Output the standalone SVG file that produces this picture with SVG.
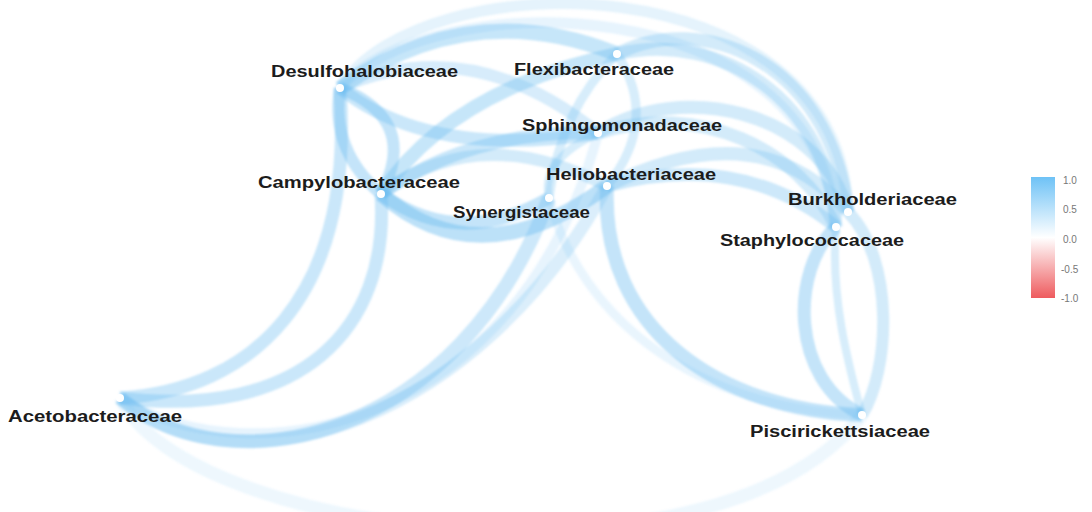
<svg xmlns="http://www.w3.org/2000/svg" width="1092" height="512" viewBox="0 0 1092 512">
  <defs>
    <linearGradient id="corrScale" x1="0" y1="0" x2="0" y2="1">
      <stop offset="0" stop-color="#6ec2f6"/>
      <stop offset="0.5" stop-color="#ffffff"/>
      <stop offset="1" stop-color="#ee5b5e"/>
    </linearGradient>
    <filter id="soft" x="-5%" y="-5%" width="110%" height="110%">
      <feGaussianBlur stdDeviation="1"/>
    </filter>
  </defs>
  <style>
    .edge { fill: none; stroke: #6cbcf0; stroke-linecap: butt; }
    .node circle { fill: #ffffff; stroke: none; }
    .label { font-family: "Liberation Sans", Arial, sans-serif; font-weight: bold; font-size: 16px; fill: #1c1c1c; }
    .tick { font-family: "Liberation Sans", Arial, sans-serif; font-size: 10px; fill: #777777; }
  </style>
  <rect width="1092" height="512" fill="#ffffff"/>

  <!-- correlation edges, drawn as arcs -->
  <g id="edges" filter="url(#soft)">
    <!-- long faint arcs -->
    <path class="edge" d="M120,398 C190,540 720,600 862,415" stroke-width="13" stroke-opacity="0.12"/>
    <path class="edge" d="M340,88 C420,-40 840,-40 848,212" stroke-width="11" stroke-opacity="0.18"/>
    <path class="edge" d="M340,88 C430,-15 815,-15 836,227" stroke-width="11" stroke-opacity="0.16"/>

    <!-- Desulfohalobiaceae -->
    <path class="edge" d="M340,88 Q470,-5 617,54" stroke-width="15" stroke-opacity="0.38"/>
    <path class="edge" d="M340,88 Q470,30 598,133" stroke-width="12" stroke-opacity="0.28"/>
    <path class="edge" d="M340,88 Q330,150 381,194" stroke-width="12" stroke-opacity="0.4"/>
    <path class="edge" d="M340,88 Q420,120 381,194" stroke-width="12" stroke-opacity="0.4"/>
    <path class="edge" d="M340,88 Q430,160 598,133" stroke-width="13" stroke-opacity="0.36"/>

    <!-- Flexibacteraceae -->
    <path class="edge" d="M617,54 C700,10 830,60 848,212" stroke-width="13" stroke-opacity="0.3"/>
    <path class="edge" d="M617,54 C720,30 830,100 836,227" stroke-width="13" stroke-opacity="0.3"/>
    <path class="edge" d="M617,54 Q450,90 381,194" stroke-width="14" stroke-opacity="0.38"/>
    <path class="edge" d="M617,54 Q560,110 549,198" stroke-width="9" stroke-opacity="0.27"/>
    <path class="edge" d="M617,54 Q660,120 607,186" stroke-width="9" stroke-opacity="0.27"/>

    <!-- Sphingomonadaceae -->
    <path class="edge" d="M598,133 C680,80 820,110 848,212" stroke-width="13" stroke-opacity="0.3"/>
    <path class="edge" d="M598,133 C700,100 800,150 836,227" stroke-width="13" stroke-opacity="0.3"/>
    <path class="edge" d="M598,133 Q470,130 381,194" stroke-width="13" stroke-opacity="0.36"/>
    <path class="edge" d="M598,133 Q540,160 549,198" stroke-width="8" stroke-opacity="0.27"/>

    <!-- Heliobacteriaceae -->
    <path class="edge" d="M607,186 Q760,110 848,212" stroke-width="13" stroke-opacity="0.3"/>
    <path class="edge" d="M607,186 Q740,150 836,227" stroke-width="13" stroke-opacity="0.34"/>
    <path class="edge" d="M381,194 Q480,280 607,186" stroke-width="15" stroke-opacity="0.45"/>
    <path class="edge" d="M381,194 Q480,120 607,186" stroke-width="12" stroke-opacity="0.3"/>
    <path class="edge" d="M607,186 C600,330 720,410 862,415" stroke-width="14" stroke-opacity="0.4"/>

    <!-- Synergistaceae -->
    <path class="edge" d="M381,194 Q460,250 549,198" stroke-width="13" stroke-opacity="0.4"/>
    <path class="edge" d="M549,198 C580,320 700,410 862,415" stroke-width="9" stroke-opacity="0.15"/>

    <!-- Acetobacteraceae -->
    <path class="edge" d="M120,398 C250,390 355,300 340,88" stroke-width="13" stroke-opacity="0.36"/>
    <path class="edge" d="M120,398 C300,420 390,330 381,194" stroke-width="13" stroke-opacity="0.36"/>
    <path class="edge" d="M120,398 C230,490 460,440 549,198" stroke-width="14" stroke-opacity="0.34"/>
    <path class="edge" d="M120,398 C240,500 480,420 607,186" stroke-width="13" stroke-opacity="0.25"/>
    <path class="edge" d="M120,398 C250,480 520,430 598,133" stroke-width="10" stroke-opacity="0.16"/>

    <!-- Piscirickettsiaceae -->
    <path class="edge" d="M836,227 C790,270 790,380 862,415" stroke-width="13" stroke-opacity="0.4"/>
    <path class="edge" d="M836,227 C830,300 850,370 862,415" stroke-width="8" stroke-opacity="0.27"/>
    <path class="edge" d="M848,212 C895,260 890,370 862,415" stroke-width="12" stroke-opacity="0.3"/>
  </g>

  <!-- nodes -->
  <g id="node-desulfohalobiaceae" class="node">
    <circle cx="340" cy="88" r="4"/>
    <text class="label" x="271" y="77" textLength="187" lengthAdjust="spacingAndGlyphs">Desulfohalobiaceae</text>
  </g>
  <g id="node-flexibacteraceae" class="node">
    <circle cx="617" cy="54" r="4"/>
    <text class="label" x="514" y="75" textLength="160" lengthAdjust="spacingAndGlyphs">Flexibacteraceae</text>
  </g>
  <g id="node-sphingomonadaceae" class="node">
    <circle cx="598" cy="133" r="4"/>
    <text class="label" x="522" y="131" textLength="200" lengthAdjust="spacingAndGlyphs">Sphingomonadaceae</text>
  </g>
  <g id="node-heliobacteriaceae" class="node">
    <circle cx="607" cy="186" r="4"/>
    <text class="label" x="546" y="180" textLength="170" lengthAdjust="spacingAndGlyphs">Heliobacteriaceae</text>
  </g>
  <g id="node-campylobacteraceae" class="node">
    <circle cx="381" cy="194" r="4"/>
    <text class="label" x="258" y="188" textLength="202" lengthAdjust="spacingAndGlyphs">Campylobacteraceae</text>
  </g>
  <g id="node-synergistaceae" class="node">
    <circle cx="549" cy="198" r="4"/>
    <text class="label" x="453" y="218" textLength="137" lengthAdjust="spacingAndGlyphs">Synergistaceae</text>
  </g>
  <g id="node-burkholderiaceae" class="node">
    <circle cx="848" cy="212" r="4"/>
    <text class="label" x="788" y="205" textLength="169" lengthAdjust="spacingAndGlyphs">Burkholderiaceae</text>
  </g>
  <g id="node-staphylococcaceae" class="node">
    <circle cx="836" cy="227" r="4"/>
    <text class="label" x="720" y="246" textLength="184" lengthAdjust="spacingAndGlyphs">Staphylococcaceae</text>
  </g>
  <g id="node-acetobacteraceae" class="node">
    <circle cx="120" cy="398" r="4"/>
    <text class="label" x="8" y="422" textLength="174" lengthAdjust="spacingAndGlyphs">Acetobacteraceae</text>
  </g>
  <g id="node-piscirickettsiaceae" class="node">
    <circle cx="862" cy="415" r="4"/>
    <text class="label" x="750" y="437" textLength="180" lengthAdjust="spacingAndGlyphs">Piscirickettsiaceae</text>
  </g>

  <!-- colour bar for correlation -->
  <g id="legend">
    <rect x="1031" y="177" width="24" height="121" fill="url(#corrScale)"/>
    <text class="tick" x="1063" y="184">1.0</text>
    <text class="tick" x="1063" y="213">0.5</text>
    <text class="tick" x="1063" y="243">0.0</text>
    <text class="tick" x="1061" y="273">-0.5</text>
    <text class="tick" x="1061" y="302">-1.0</text>
  </g>
</svg>
